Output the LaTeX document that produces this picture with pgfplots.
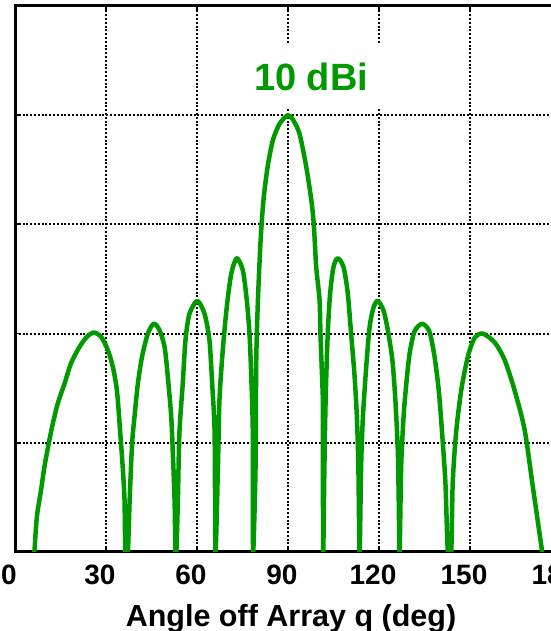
\documentclass[border=0pt]{standalone}
\usepackage{fontspec}
\setmainfont{Liberation Sans}
\usepackage{pgfplots}
\pgfplotsset{compat=1.18}
\definecolor{pgreen}{RGB}{0,153,0}

\pgfplotstableread{
theta gain
6.4 -30
7.2 -26.8
8.6 -24.3
9.7 -22.2
11.1 -20.1
12.5 -18.2
14.1 -16.4
16.3 -14.6
18.5 -12.7
21.3 -11.2
23.7 -10.3
26.0 -9.9
28.4 -10.3
30.6 -11.5
32.2 -13.0
33.6 -15.2
34.7 -19.1
35.5 -22.2
36.1 -25.2
36.4 -30
37.2 -30
37.8 -25.2
38.6 -20.1
39.4 -17.6
40.5 -14.6
41.9 -12.1
43.8 -10.0
45.7 -9.1
47.5 -9.6
49.3 -11.2
50.4 -14.0
51.5 -17.6
52.0 -20.7
52.6 -25.2
52.9 -30
53.2 -30
53.7 -25.2
54.2 -19.1
55.3 -14.6
56.2 -10.6
57.5 -8.2
60.1 -7.0
62.5 -8.2
64.1 -10.6
65.0 -14.6
65.8 -19.1
66.1 -30
66.9 -22.2
67.4 -16.1
68.5 -11.5
69.8 -7.6
71.3 -4.5
73.1 -3.1
75.1 -4.2
76.4 -6.9
77.3 -10.0
77.9 -14.0
78.4 -19.1
78.5 -30
79.3 -22.2
79.5 -13.0
80.0 -7.6
80.9 -1.8
81.9 2.2
83.3 5.3
85.0 7.7
87.2 9.2
89.9 10.0
91.6 9.6
93.8 8.3
96.0 5.3
97.7 2.2
98.5 0.0
99.3 -3.9
100.4 -6.9
100.7 -10.0
101.1 -13.0
101.5 -16.1
101.5 -19.1
101.6 -30
102.0 -22.2
102.4 -16.1
103.1 -10.0
103.9 -6.3
105.0 -3.9
106.4 -3.1
108.3 -3.9
109.7 -6.3
110.8 -10.0
111.9 -13.7
112.7 -17.6
113.2 -22.2
113.6 -30
114.1 -22.2
114.7 -17.6
115.8 -13.0
116.9 -9.4
118.2 -7.6
119.6 -7.0
121.5 -7.9
122.9 -9.7
124.4 -12.4
125.4 -16.1
126.2 -20.7
126.5 -25.2
126.8 -30
127.3 -22.2
128.1 -17.6
129.0 -14.6
130.1 -11.8
131.7 -9.8
134.2 -9.1
136.6 -9.8
138.3 -12.1
139.7 -15.2
140.8 -19.1
141.9 -23.7
142.7 -30
143.8 -30
144.3 -23.7
145.4 -19.1
147.1 -15.2
149.3 -12.1
151.5 -10.4
154.2 -10.0
158.1 -10.8
161.4 -12.4
164.7 -15.2
168.0 -18.8
170.7 -24.0
173.8 -30
}\pattern

\begin{document}
\begin{tikzpicture}
\begin{axis}[
  scale only axis, width=546pt, height=546pt,
  xmin=0, xmax=180, ymin=-30, ymax=20,
  xtick={0,30,...,180}, xticklabels={0,30,60,90,120,150,180},
  ytick={-30,-20,...,20}, yticklabels={},
  tick align=inside, major tick length=5pt,
  tick style={black, line width=1.8pt},
  axis line style={line width=3pt},
  grid=major,
  major grid style={black, line width=2pt, dash pattern=on 2pt off 1.8pt},
  xticklabel style={font=\bfseries\fontsize{28}{30}\selectfont, yshift=-9pt, xshift=-6pt},
  xlabel={Angle off Array q (deg)},
  xlabel style={font=\bfseries\fontsize{30.5}{32}\selectfont, at={(axis description cs:0.5,0)}, anchor=base, yshift=-74pt, xshift=3pt},
]
\addplot[color=pgreen, line width=4.5pt, line join=round, smooth, tension=0.45, no markers] table[x=theta, y=gain] {\pattern};
\node[fill=white, minimum width=180pt, minimum height=63pt, inner sep=0pt, text=pgreen, font=\bfseries\fontsize{38}{40}\selectfont] at (axis cs:97.6,13.5) {10 dBi};
\coordinate (sw) at (rel axis cs:0,0);
\end{axis}
\pgfresetboundingbox
\path[use as bounding box] ([shift={(-15pt,-79pt)}]sw) rectangle ([shift={(535pt,552pt)}]sw);
\end{tikzpicture}
\end{document}
